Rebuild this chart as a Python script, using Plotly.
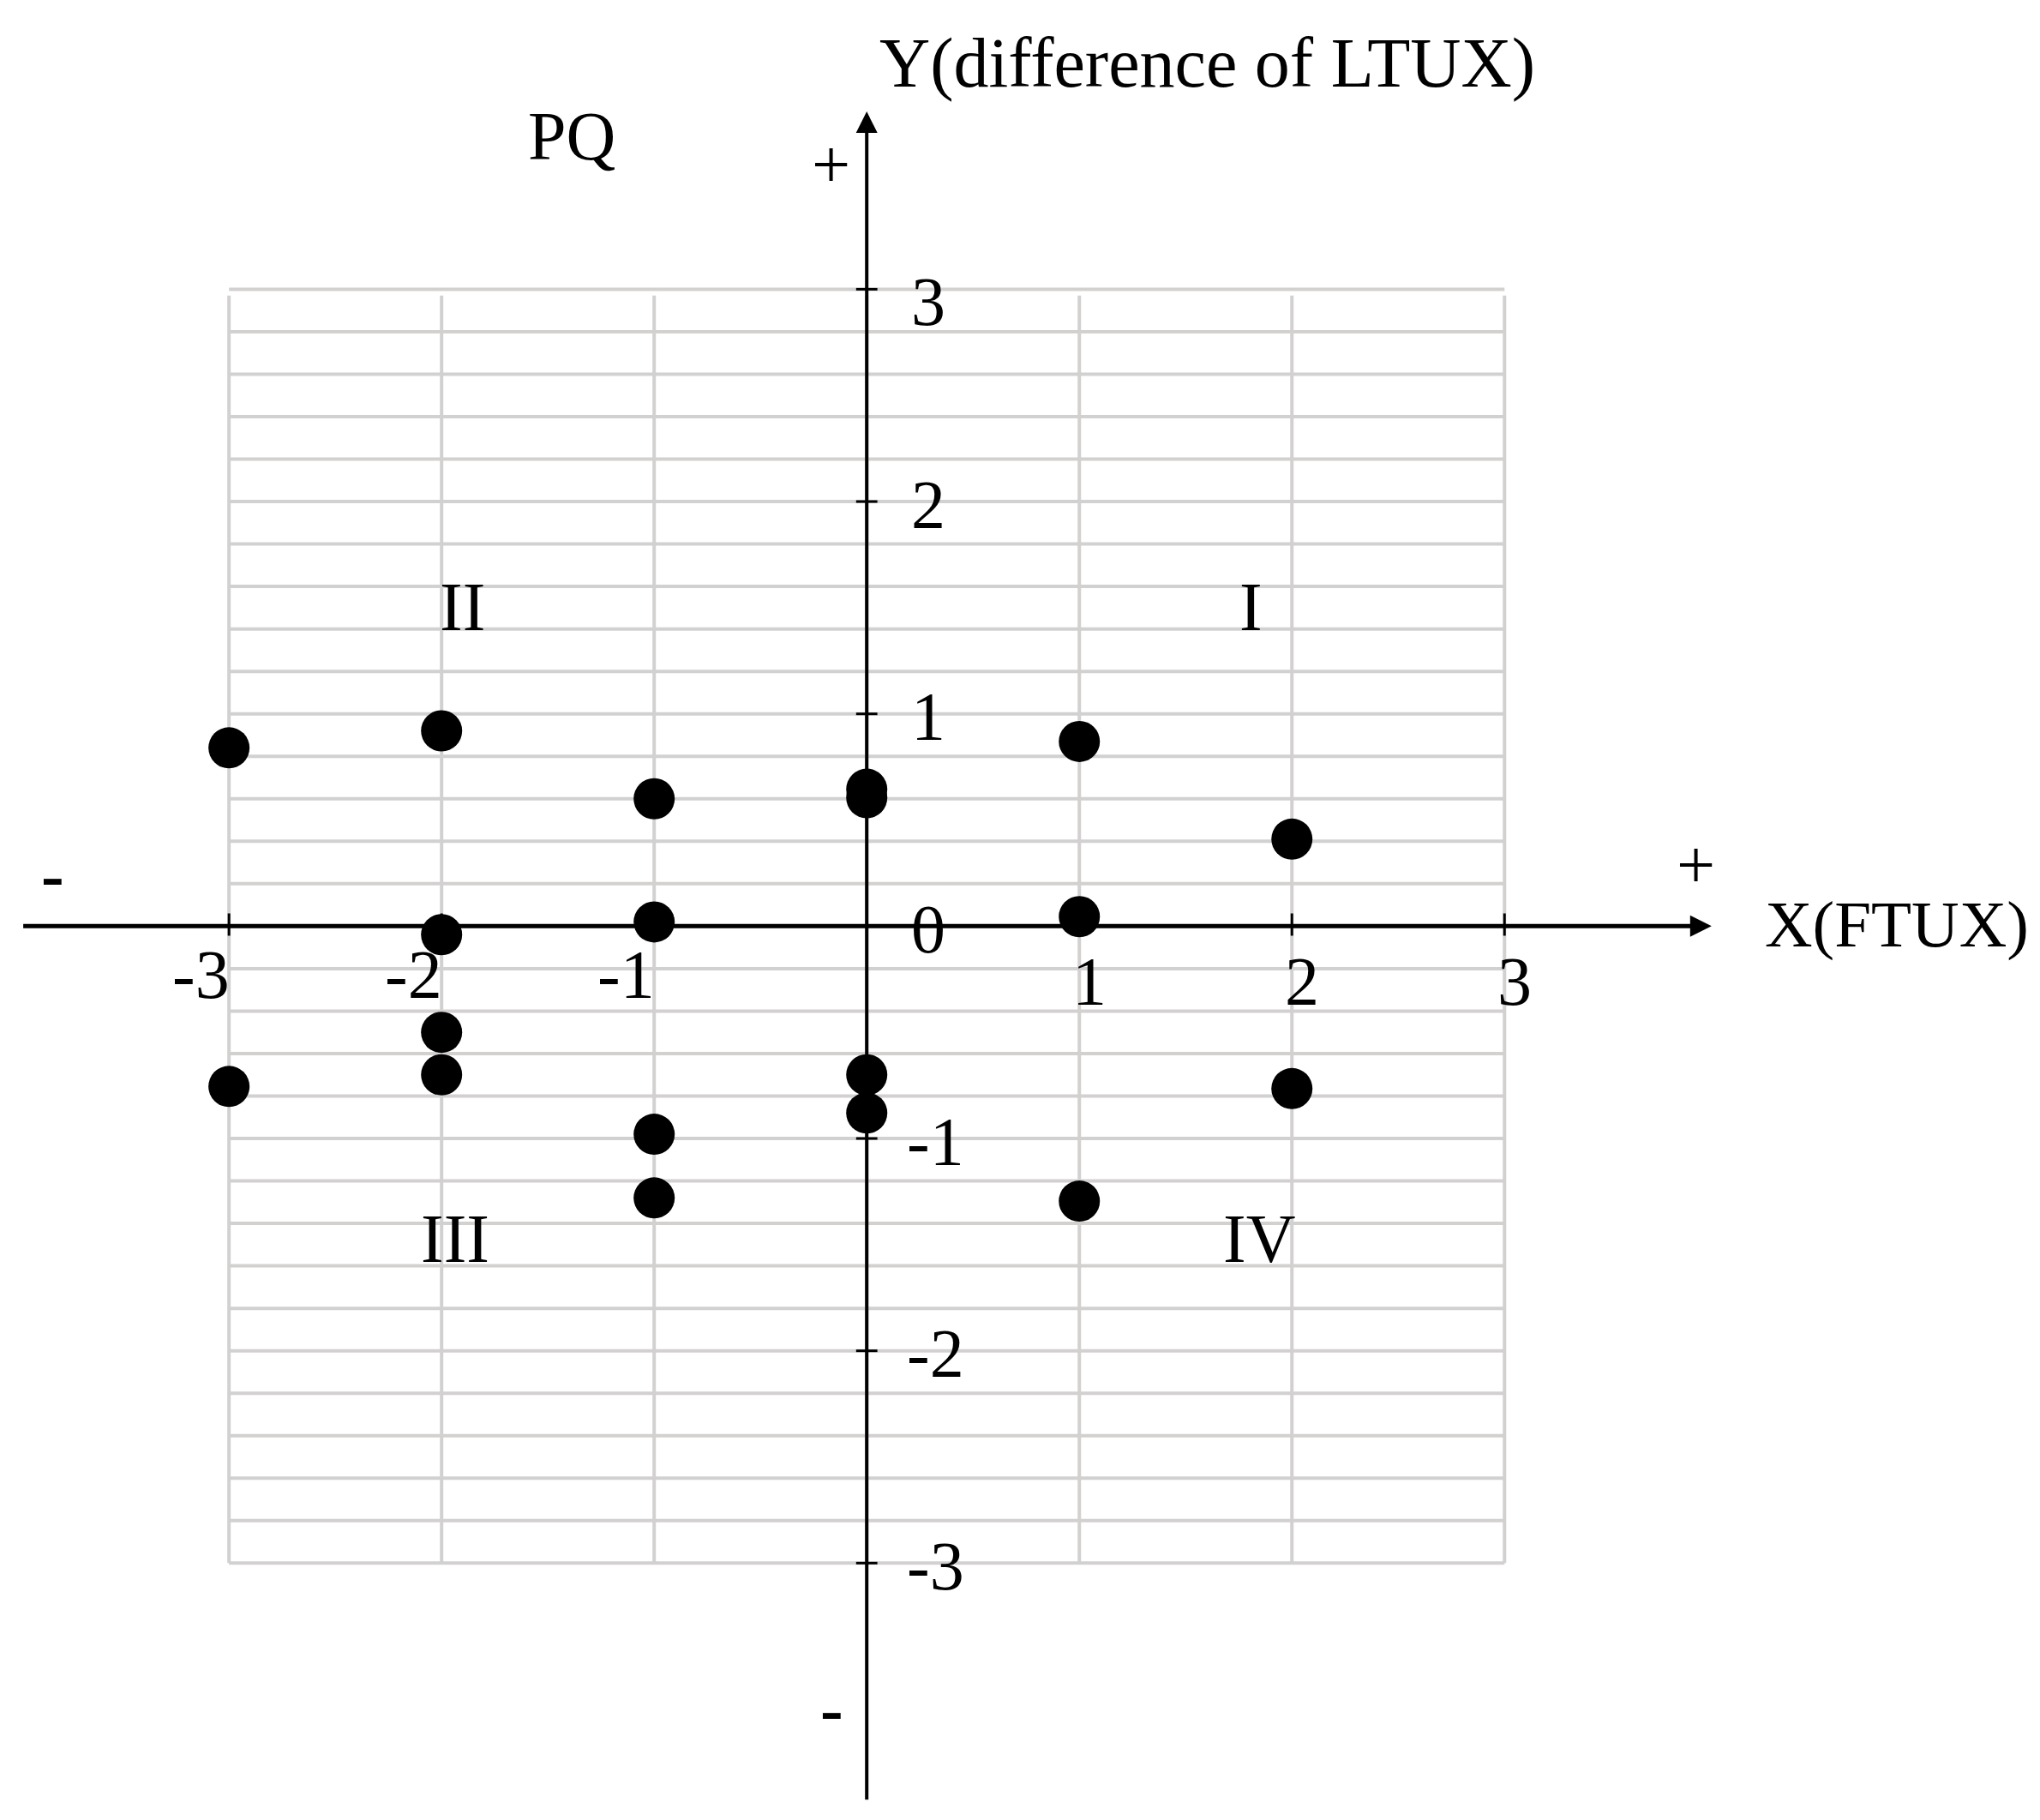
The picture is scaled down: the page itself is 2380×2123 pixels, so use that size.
import plotly.graph_objects as go

# ---- data ----
x_vals = [-3, -2, -1, 0, 0, 1, 2, -2, -1, 1, -2, -2, -3, -1, -1, 0, 0, 1, 2]
y_vals = [0.84, 0.92, 0.60, 0.645, 0.605, 0.87, 0.41, -0.04, 0.02, 0.045,
          -0.50, -0.70, -0.755, -0.98, -1.28, -0.70, -0.88, -1.295, -0.765]

x_ticks = [-3, -2, -1, 1, 2, 3]
x_tick_labels = ["-3", "-2", "-1", "1", "2", "3"]
y_ticks = [-3, -2, -1, 0, 1, 2, 3]
y_tick_labels = ["-3", "-2", "-1", "0", "1", "2", "3"]
grid_x = [-3, -2, -1, 0, 1, 2, 3]
grid_y = [round(-3 + 0.2 * k, 2) for k in range(31)]

quadrant_names = ["I", "II", "III", "IV"]
quadrant_pos = [(1.806, 1.514), (-1.903, 1.514), (-1.937, -1.462), (1.847, -1.464)]

x_title = "X(FTUX)"
y_title = "Y(difference of LTUX)"
panel_label = "PQ"

FONT = "Liberation Serif, Times New Roman, serif"
FS = 80
GRID_COLOR = "#d3d0d0"

fig = go.Figure()

# grid
shapes = []
for gy in grid_y:
    shapes.append(dict(type="line", xref="x", yref="y", x0=-3, x1=3, y0=gy, y1=gy,
                       line=dict(color=GRID_COLOR, width=4), layer="below"))
for gx in grid_x:
    shapes.append(dict(type="line", xref="x", yref="y", x0=gx, x1=gx, y0=-3, y1=2.97,
                       line=dict(color=GRID_COLOR, width=4), layer="below"))
# tick marks on axes
for tx in x_ticks:
    shapes.append(dict(type="line", xref="x", yref="y", x0=tx, x1=tx, y0=-0.045, y1=0.06,
                       line=dict(color="black", width=3)))
for ty in y_ticks:
    if ty == 0:
        continue
    shapes.append(dict(type="line", xref="x", yref="y", x0=-0.05, x1=0.05, y0=ty, y1=ty,
                       line=dict(color="black", width=3)))

fig.add_trace(go.Scatter(
    x=x_vals, y=y_vals, mode="markers",
    marker=dict(color="black", size=48, line=dict(width=0)),
    hoverinfo="skip", showlegend=False))

annotations = []
# axes with arrows
annotations.append(dict(x=3.974, y=0, ax=-3.974, ay=0, xref="x", yref="y", axref="x", ayref="y",
                        showarrow=True, arrowhead=2, arrowsize=1.0, arrowwidth=5,
                        arrowcolor="black", text="", standoff=0))
annotations.append(dict(x=0, y=3.837, ax=0, ay=-4.12, xref="x", yref="y", axref="x", ayref="y",
                        showarrow=True, arrowhead=2, arrowsize=1.25, arrowwidth=4,
                        arrowcolor="black", text="", standoff=0))

txtfont = dict(family=FONT, size=FS, color="black")

# x tick labels
for tx, lab in zip(x_ticks, x_tick_labels):
    if tx < 0:
        annotations.append(dict(x=tx + 0.01, y=-0.23, xref="x", yref="y", text=lab, showarrow=False,
                                xanchor="right", yanchor="middle", font=txtfont))
    else:
        annotations.append(dict(x=tx - 0.04, y=-0.26, xref="x", yref="y", text=lab, showarrow=False,
                                xanchor="left", yanchor="middle", font=txtfont))
# y tick labels
for ty, lab in zip(y_ticks, y_tick_labels):
    annotations.append(dict(x=0.18 if ty < 0 else 0.2, y=ty - (0.06 if ty == 3 else 0.015),
                            xref="x", yref="y", text=lab,
                            showarrow=False, xanchor="left", yanchor="middle", font=txtfont))

# quadrant labels
for name, (qx, qy) in zip(quadrant_names, quadrant_pos):
    annotations.append(dict(x=qx, y=qy - 0.01, xref="x", yref="y", text=name, showarrow=False,
                            xanchor="center", yanchor="middle", font=txtfont))

# titles and signs
annotations.append(dict(x=0.05, y=4.065, xref="x", yref="y", text=y_title, showarrow=False,
                        xanchor="left", yanchor="middle",
                        font=dict(family=FONT, size=82, color="black")))
annotations.append(dict(x=4.215, y=0.01, xref="x", yref="y", text=x_title, showarrow=False,
                        xanchor="left", yanchor="middle",
                        font=dict(family=FONT, size=77, color="black")))
annotations.append(dict(x=-1.389, y=3.72, xref="x", yref="y", text=panel_label, showarrow=False,
                        xanchor="center", yanchor="middle", font=txtfont))
annotations.append(dict(x=-0.169, y=3.588, xref="x", yref="y", text="+", showarrow=False,
                        xanchor="center", yanchor="middle", font=txtfont))
annotations.append(dict(x=3.90, y=0.287, xref="x", yref="y", text="+", showarrow=False,
                        xanchor="center", yanchor="middle", font=txtfont))
annotations.append(dict(x=-3.83, y=0.24, xref="x", yref="y", text="<b>-</b>", showarrow=False,
                        xanchor="center", yanchor="middle", font=txtfont))
annotations.append(dict(x=-0.163, y=-3.69, xref="x", yref="y", text="<b>-</b>", showarrow=False,
                        xanchor="center", yanchor="middle", font=txtfont))

# The page body has an 8px margin, so the figure is sized to end at the window edge.
fig.update_layout(
    width=2372, height=2115,
    margin=dict(l=0, r=0, t=0, b=0, pad=0),
    paper_bgcolor="white", plot_bgcolor="white",
    xaxis=dict(range=[-4.045, 5.519], visible=False, fixedrange=True),
    yaxis=dict(range=[-4.21, 4.33], visible=False, fixedrange=True),
    shapes=shapes, annotations=annotations, showlegend=False,
)

fig.write_html("out.html")
